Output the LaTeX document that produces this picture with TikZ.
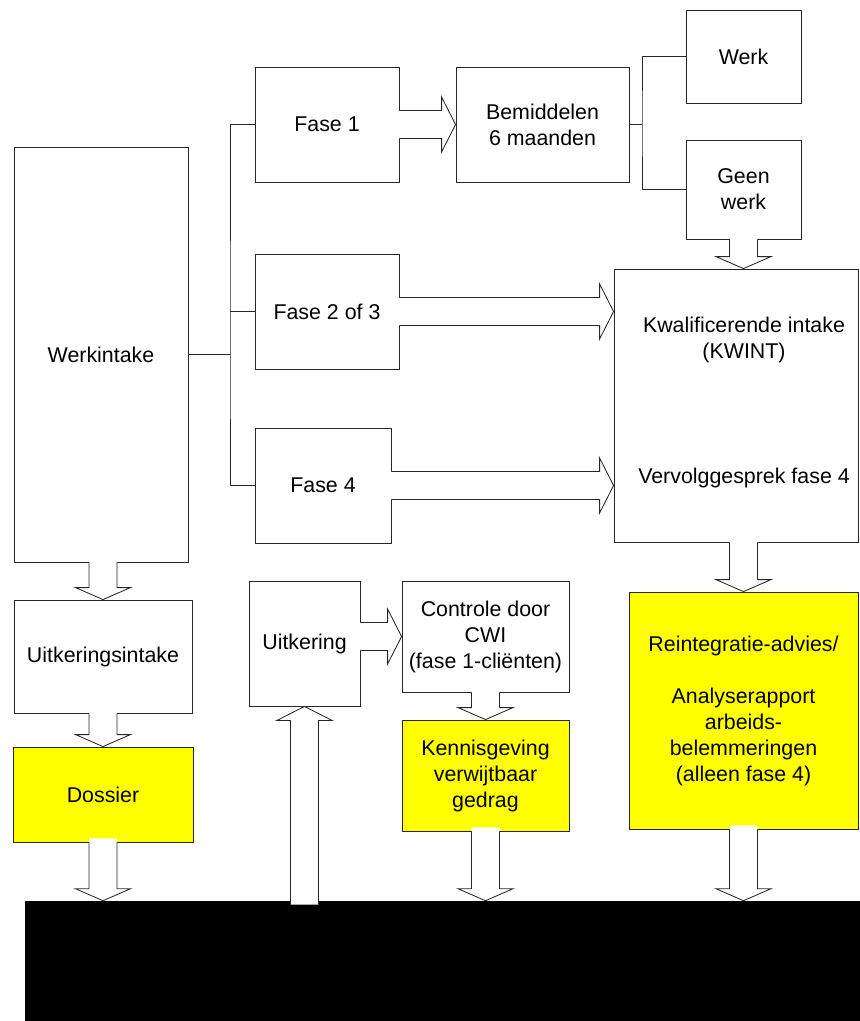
\documentclass[tikz,border=0pt]{standalone}
\usepackage{fontspec}
\setmainfont{Liberation Sans}
\usetikzlibrary{calc}
\definecolor{geelvak}{RGB}{255,255,0}
% blokpijlen: #1 = staart, #2 = punt
\newcommand{\pijlrechts}[2]{%
	\coordinate (s) at (#1); \coordinate (p) at (#2);
	\fill[white] ($(s)+(-3,-14)$) -- ($(p)+(-14,-14)$) -- ($(p)+(-14,-27.5)$) -- (p) -- ($(p)+(-14,27.5)$) -- ($(p)+(-14,14)$) -- ($(s)+(-3,14)$) -- cycle;
	\draw[lijn] ($(s)+(0,-14)$) -- ($(p)+(-14,-14)$) -- ($(p)+(-14,-27.5)$) -- (p) -- ($(p)+(-14,27.5)$) -- ($(p)+(-14,14)$) -- ($(s)+(0,14)$);}
\newcommand{\pijlomlaag}[2]{%
	\coordinate (s) at (#1); \coordinate (p) at (#2);
	\fill[white] ($(s)+(-14,-4)$) -- ($(p)+(-14,-12)$) -- ($(p)+(-27.5,-12)$) -- (p) -- ($(p)+(27.5,-12)$) -- ($(p)+(14,-12)$) -- ($(s)+(14,-4)$) -- cycle;
	\draw[lijn] ($(s)+(-14,0)$) -- ($(p)+(-14,-12)$) -- ($(p)+(-27.5,-12)$) -- (p) -- ($(p)+(27.5,-12)$) -- ($(p)+(14,-12)$) -- ($(s)+(14,0)$);}
\newcommand{\pijlomhoog}[2]{%
	\coordinate (s) at (#1); \coordinate (p) at (#2);
	\fill[white] ($(s)+(-14,4)$) -- ($(p)+(-14,14)$) -- ($(p)+(-27.5,14)$) -- (p) -- ($(p)+(27.5,14)$) -- ($(p)+(14,14)$) -- ($(s)+(14,4)$) -- cycle;
	\draw[lijn] ($(s)+(-14,4)$) -- ($(p)+(-14,14)$) -- ($(p)+(-27.5,14)$) -- (p) -- ($(p)+(27.5,14)$) -- ($(p)+(14,14)$) -- ($(s)+(14,4)$);}
\begin{document}
\begin{tikzpicture}[x=0.025cm, y=-0.025cm, line join=miter,
	font=\fontsize{15.2}{18.5}\selectfont,
	lijn/.style={draw=black!85, line width=0.6pt},
	maat/.style 2 args={minimum width=#1*0.025cm, minimum height=#2*0.025cm},
	vak/.style={lijn, fill=white, align=center, inner sep=0pt},
	geel/.style={vak, fill=geelvak}]
	\useasboundingbox (0,0) rectangle (860,1021);
	% vakken
	\node[vak, maat={174}{415}] (werkintake) at (101,354.5) {Werkintake};
	\node[vak, maat={144}{115}] (fase1) at (327,124.5) {Fase 1};
	\node[vak, maat={144}{115}] (fase2) at (327,311.5) {Fase 2 of 3};
	\node[vak, maat={136}{115}] (fase4) at (323,485.5) {Fase 4};
	\node[vak, maat={173}{115}] (bemiddelen) at (542.5,124.5) {Bemiddelen\\6 maanden};
	\node[vak, maat={115}{93}] (werk) at (743.5,56.5) {Werk};
	\node[vak, maat={115}{99}] (geenwerk) at (743.5,189.5) {Geen\\werk};
	\node[vak, maat={244}{273}] (kwint) at (736,405.5) {};
	\node[align=center] (kwtekst) at (744,340) {Kwalificerende intake\\(KWINT)};
	\node (vervolg) at (744,478) {Vervolggesprek fase 4};
	\node[vak, maat={178}{113}] (uitkintake) at (103,656.5) {Uitkeringsintake};
	\node[geel, maat={180}{95}] (dossier) at (103,794.5) {Dossier};
	\node[vak, maat={111}{125}] (uitkering) at (304.5,643.5) {Uitkering};
	\node[vak, maat={167}{111}] (controle) at (485.5,636.5) {Controle door\\CWI\\(fase 1-cliënten)};
	\node[geel, maat={167}{111}] (kennisgeving) at (485.5,775.5) {Kennisgeving\\verwijtbaar\\gedrag};
	\node[geel, maat={229}{237}] (reintegratie) at (743.5,710.5) {Reintegratie-advies/\\[18.5pt]Analyserapport\\arbeids-\\belemmeringen\\(alleen fase 4)};
	\node[fill=black, inner sep=0pt, maat={835}{120}] (balk) at (442.5,961) {};
	% verbindingslijnen
	\coordinate (vork) at (230,354.5);
	\coordinate (splits) at (642,124.5);
	\draw[lijn] (werkintake.east) -- (vork);
	\draw[lijn] (fase1.west) -| (vork) |- (fase4.west);
	\draw[lijn] (fase2.west) -- (vork |- fase2.west);
	\draw[lijn] (bemiddelen.east) -- (splits);
	\draw[lijn] (werk.west) -| (splits) |- (geenwerk.west);
	% blokpijlen
	\pijlrechts{fase1.east}{bemiddelen.west}
	\pijlrechts{fase2.east}{fase2.east -| kwint.west}
	\pijlrechts{fase4.east}{fase4.east -| kwint.west}
	\pijlrechts{controle.west -| uitkering.east}{controle.west}
	\pijlomlaag{geenwerk.south}{geenwerk.south |- kwint.north}
	\pijlomlaag{uitkintake.north |- werkintake.south}{uitkintake.north}
	\pijlomlaag{dossier.north |- uitkintake.south}{dossier.north}
	\pijlomlaag{dossier.south}{dossier.south |- balk.north}
	\pijlomlaag{controle.south}{kennisgeving.north}
	\pijlomlaag{kennisgeving.south}{kennisgeving.south |- balk.north}
	\pijlomlaag{reintegratie.north |- kwint.south}{reintegratie.north}
	\pijlomlaag{reintegratie.south}{reintegratie.south |- balk.north}
	\pijlomhoog{uitkering.south |- balk.north}{uitkering.south}
\end{tikzpicture}
\end{document}
